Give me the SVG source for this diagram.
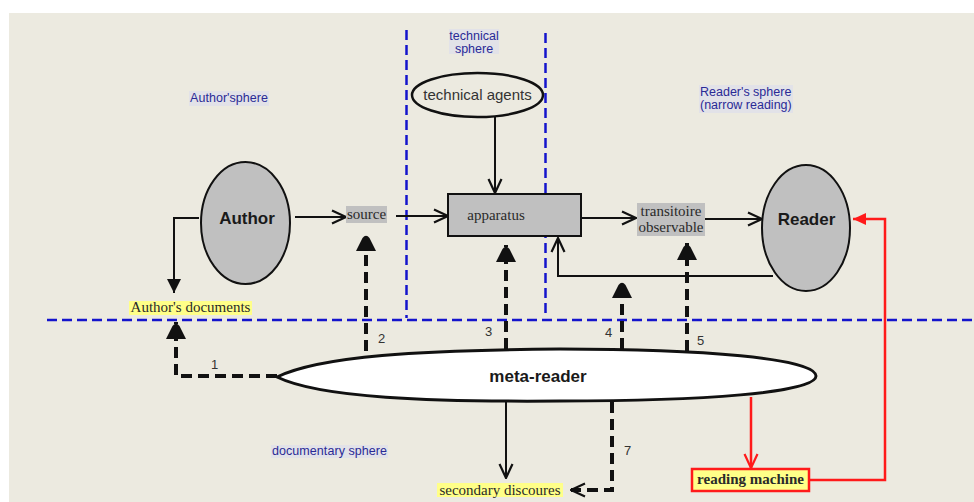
<svg xmlns="http://www.w3.org/2000/svg" width="974" height="502" viewBox="0 0 974 502">
<defs>
<style>
.bg{fill:#ECEAE0}
.sph{font-family:"Liberation Sans",Arial,sans-serif;font-size:12.5px;fill:#2a2a96}
.sphbox{fill:#E2E2E8}
.big{font-family:"Liberation Sans",Arial,sans-serif;font-size:17px;font-weight:bold;fill:#1a1a1a;text-anchor:middle}
.ser{font-family:"Liberation Serif","Times New Roman",serif;font-size:15px;fill:#2a2a2a}
.num{font-family:"Liberation Sans",Arial,sans-serif;font-size:13px;fill:#333}
.blue{stroke:#1414CC;stroke-width:2.5;stroke-dasharray:10,5;fill:none}
.solid{stroke:#111;stroke-width:2;fill:none}
.dash{stroke:#111;stroke-width:4;stroke-dasharray:11,6;fill:none}
.red{stroke:#FF1A1A;stroke-width:2.5;fill:none}
.gray{fill:#C0C0C0}
.yel{fill:#FFFF88}
</style>
<marker id="open" viewBox="0 0 16 16" refX="15" refY="8" markerWidth="16" markerHeight="16" markerUnits="userSpaceOnUse" orient="auto">
<path d="M1,1.5 L15,8 L1,14.5" fill="none" stroke="#111" stroke-width="2.2"/>
</marker>
<marker id="openred" viewBox="0 0 16 16" refX="15" refY="8" markerWidth="16" markerHeight="16" markerUnits="userSpaceOnUse" orient="auto">
<path d="M1,1.5 L15,8 L1,14.5" fill="none" stroke="#FF1A1A" stroke-width="2.2"/>
</marker>
<marker id="tri" viewBox="0 0 14 14" refX="14" refY="7" markerWidth="14" markerHeight="14" markerUnits="userSpaceOnUse" orient="auto">
<path d="M0,0 L14,7 L0,14 Z" fill="#111"/>
</marker>
<marker id="trired" viewBox="0 0 13 12" refX="13" refY="6" markerWidth="13" markerHeight="12" markerUnits="userSpaceOnUse" orient="auto">
<path d="M0,0 L13,6 L0,12 Z" fill="#FF1A1A"/>
</marker>
<marker id="bullet" viewBox="0 0 18 20" refX="17" refY="10" markerWidth="18" markerHeight="20" markerUnits="userSpaceOnUse" orient="auto">
<path d="M0,0 L13,6.5 Q17.5,10 13,13.5 L0,20 Z" fill="#111"/>
</marker>
</defs>

<rect x="0" y="0" width="974" height="502" fill="#FFFFFF"/>
<rect class="bg" x="9" y="13" width="965" height="489"/>

<g id="sphere-lines">
<line class="blue" x1="406.5" y1="30" x2="406.5" y2="318"/>
<line class="blue" x1="545.5" y1="33" x2="545.5" y2="318"/>
<line class="blue" x1="47" y1="320" x2="974" y2="320"/>
</g>

<g id="label-author-sphere">
<rect class="sphbox" x="189" y="91" width="80" height="15"/>
<text class="sph" x="190" y="102" textLength="78">Author'sphere</text>
</g>
<g id="label-technical-sphere">
<rect class="sphbox" x="449" y="29" width="50" height="25"/>
<text class="sph" x="474" y="40" text-anchor="middle">technical</text>
<text class="sph" x="474" y="53" text-anchor="middle">sphere</text>
</g>
<g id="label-reader-sphere">
<rect class="sphbox" x="699" y="85" width="94" height="28"/>
<text class="sph" x="700" y="96">Reader's sphere</text>
<text class="sph" x="700" y="109">(narrow reading)</text>
</g>
<g id="label-documentary-sphere">
<rect class="sphbox" x="271" y="445" width="117" height="13"/>
<text class="sph" x="272" y="455" textLength="115">documentary sphere</text>
</g>

<g id="connectors">
<path class="solid" d="M495,117 V193" marker-end="url(#open)"/>
<path class="solid" d="M295,217 H346" marker-end="url(#open)"/>
<path class="solid" d="M396,216 H448" marker-end="url(#open)"/>
<path class="solid" d="M581,218 H636" marker-end="url(#open)"/>
<path class="solid" d="M705,219 H762" marker-end="url(#open)"/>
<path class="solid" d="M773,276 H558 V238" marker-end="url(#open)"/>
<path class="solid" d="M199,218 H174 V293" marker-end="url(#tri)"/>
<path class="solid" d="M506,402 V478" marker-end="url(#open)"/>
<path class="dash" d="M277,376 H176 V322" marker-end="url(#bullet)"/>
<path class="dash" d="M366,351 V234" marker-end="url(#bullet)"/>
<path class="dash" d="M506,349 V245" marker-end="url(#bullet)"/>
<path class="dash" d="M622,349 V281" marker-end="url(#bullet)"/>
<path class="dash" d="M687,351 V243" marker-end="url(#bullet)"/>
<path class="dash" d="M612,402 V490 H571" marker-end="url(#open)"/>
<path class="red" d="M751,397 V468" marker-end="url(#openred)"/>
<path class="red" d="M809,480 H885 V219 H853" marker-end="url(#trired)"/>
<text class="num" x="211" y="369">1</text>
<text class="num" x="378" y="343">2</text>
<text class="num" x="485" y="336">3</text>
<text class="num" x="605" y="337">4</text>
<text class="num" x="697" y="345">5</text>
<text class="num" x="624" y="455">7</text>
</g>

<g id="technical-agents">
<ellipse cx="477.5" cy="95" rx="65.5" ry="22" fill="#ECEAE0" stroke="#111" stroke-width="2.5"/>
<text x="477.5" y="100" text-anchor="middle" font-family="'Liberation Sans',Arial,sans-serif" font-size="15" fill="#333">technical agents</text>
</g>

<g id="author">
<ellipse class="gray" cx="245.5" cy="223" rx="44.5" ry="61" stroke="#111" stroke-width="2"/>
<text class="big" x="247" y="224">Author</text>
</g>

<g id="source">
<rect class="gray" x="346" y="206" width="41" height="17"/>
<text class="ser" x="366.5" y="219" text-anchor="middle">source</text>
</g>

<g id="apparatus">
<rect class="gray" x="448" y="194" width="133" height="42" stroke="#111" stroke-width="2"/>
<text class="ser" x="496" y="220" text-anchor="middle">apparatus</text>
</g>

<g id="transitoire">
<rect class="gray" x="637" y="203" width="68" height="33"/>
<text class="ser" x="671" y="216" text-anchor="middle">transitoire</text>
<text class="ser" x="671" y="232" text-anchor="middle">observable</text>
</g>

<g id="reader">
<ellipse class="gray" cx="806" cy="228" rx="44" ry="63" stroke="#111" stroke-width="2"/>
<text class="big" x="806.5" y="225">Reader</text>
</g>

<g id="authors-documents">
<rect class="yel" x="129" y="301" width="123" height="14"/>
<text class="ser" x="190.5" y="312" text-anchor="middle">Author's documents</text>
</g>

<g id="meta-reader">
<path d="M277,377 C320,356 420,350 560,349 C700,349 816,358 816,376 C816,393 700,401 560,401 C430,402 320,398 277,377 Z" fill="#FFFFFF" stroke="#111" stroke-width="3"/>
<text class="big" x="538" y="382">meta-reader</text>
</g>

<g id="secondary-discoures">
<rect class="yel" x="437" y="483" width="126" height="14"/>
<text class="ser" x="500" y="495" text-anchor="middle">secondary discoures</text>
</g>

<g id="reading-machine">
<rect class="yel" x="692" y="469" width="117" height="22" stroke="#FF1A1A" stroke-width="2.5"/>
<text class="ser" x="750.5" y="484" text-anchor="middle" font-weight="bold">reading machine</text>
</g>
</svg>
